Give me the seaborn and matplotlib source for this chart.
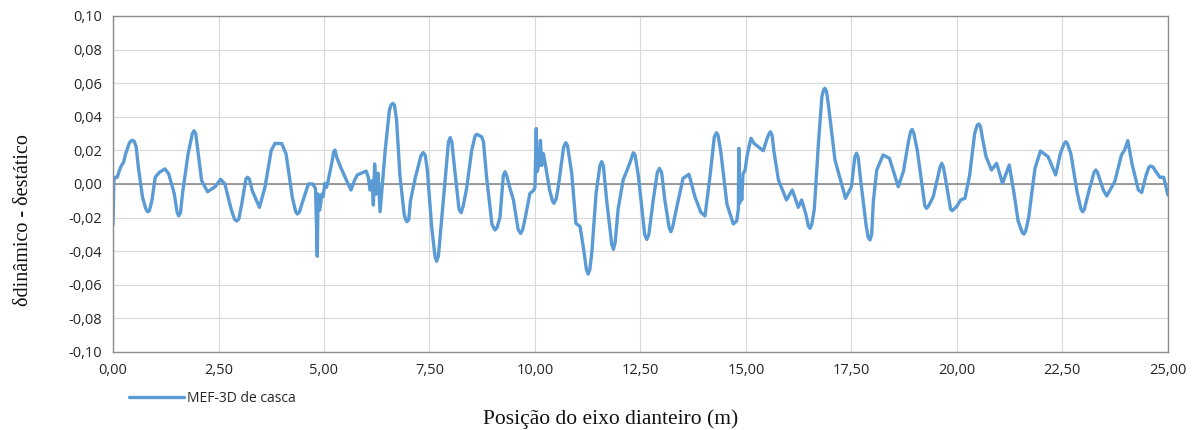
import matplotlib
matplotlib.use("Agg")
import matplotlib.pyplot as plt
import seaborn as sns
import pandas as pd

# posição do eixo dianteiro (m) e diferença de deslocamento
pos = [0.0, 0.02, 0.05, 0.1, 0.15, 0.2, 0.25, 0.3, 0.38, 0.42, 0.46, 0.5, 0.55, 0.6, 0.7, 0.78,
       0.82, 0.86, 0.92, 1.0, 1.1, 1.23, 1.32, 1.45, 1.52, 1.56, 1.6, 1.65, 1.78, 1.88, 1.92,
       1.96, 2.0, 2.1, 2.24, 2.42, 2.55, 2.65, 2.8, 2.88, 2.93, 2.98, 3.05, 3.15, 3.19, 3.23,
       3.3, 3.47, 3.6, 3.75, 3.84, 4.0, 4.1, 4.25, 4.33, 4.37, 4.42, 4.5, 4.63,
       4.74, 4.8, 4.84, 4.86, 4.9, 4.95, 4.98, 5.02, 5.06, 5.1, 5.18, 5.23, 5.26, 5.3, 5.39, 5.5,
       5.64, 5.72, 5.79, 6.0, 6.05, 6.09, 6.14, 6.17, 6.2, 6.24, 6.28, 6.33, 6.36, 6.45, 6.55,
       6.59, 6.63, 6.67, 6.72, 6.8, 6.9, 6.94, 6.97, 7.01, 7.05, 7.16, 7.3, 7.35, 7.4, 7.45,
       7.55, 7.63, 7.67, 7.71, 7.75, 7.88, 7.95, 7.99, 8.03, 8.1, 8.2, 8.25, 8.3, 8.38, 8.5,
       8.58, 8.62, 8.74, 8.78, 8.85, 8.98, 9.05, 9.1, 9.17, 9.25, 9.29, 9.33, 9.4, 9.49, 9.6,
       9.66, 9.71, 9.77, 9.88, 9.96,
       10.0, 10.03, 10.05, 10.1, 10.13, 10.16, 10.2, 10.24, 10.35, 10.42, 10.45, 10.5, 10.55,
       10.68, 10.73, 10.77, 10.8,
       10.87, 10.97, 11.07, 11.16, 11.22, 11.26, 11.3, 11.35, 11.45, 11.54, 11.58, 11.62, 11.7,
       11.82, 11.86, 11.9, 11.97, 12.09,
       12.23, 12.33, 12.37, 12.45, 12.6, 12.65, 12.7, 12.8, 12.9, 12.95, 13.0, 13.08, 13.18,
       13.22, 13.26, 13.35, 13.51, 13.65, 13.79,
       13.93, 14.03, 14.15, 14.25, 14.3, 14.34, 14.4, 14.55, 14.7, 14.78, 14.82, 14.83, 14.85,
       14.88, 14.9, 14.93, 14.98, 15.03, 15.12, 15.19, 15.29, 15.41, 15.5, 15.55, 15.58, 15.62,
       15.66, 15.77, 15.96,
       16.1, 16.24, 16.32, 16.42, 16.48, 16.52, 16.56, 16.62, 16.72, 16.8, 16.84, 16.87, 16.91,
       16.95, 17.11, 17.24,
       17.36, 17.5, 17.58, 17.62, 17.66, 17.72, 17.85, 17.9, 17.94, 17.98, 18.02, 18.1, 18.25,
       18.4, 18.61, 18.73,
       18.85, 18.9, 18.94, 18.98, 19.06, 19.17, 19.24, 19.28, 19.33, 19.44, 19.6, 19.64, 19.68,
       19.75, 19.85, 19.89, 19.99, 20.09, 20.19,
       20.3, 20.42, 20.48, 20.52, 20.56, 20.6, 20.69, 20.82, 20.94, 21.08, 21.24, 21.35, 21.45,
       21.55, 21.59, 21.63,
       21.7, 21.85, 21.98, 22.16, 22.34, 22.45, 22.54, 22.58, 22.62, 22.7, 22.85, 22.94, 22.98,
       23.02, 23.12, 23.25, 23.29, 23.33,
       23.47, 23.55, 23.74, 23.9, 23.97, 24.05, 24.15, 24.3, 24.38, 24.48, 24.55, 24.59, 24.65,
       24.7, 24.81, 24.9, 25.0]

delta = [-0.024, 0.002, 0.004, 0.004, 0.008, 0.011, 0.013, 0.018, 0.024, 0.0255, 0.026, 0.0255,
         0.022, 0.010, -0.008, -0.015, -0.0165, -0.016, -0.010, 0.004, 0.007, 0.009, 0.006,
         -0.0056, -0.017, -0.019, -0.017, -0.005, 0.018, 0.030, 0.0317, 0.030, 0.022, 0.002,
         -0.0046, -0.0016, 0.0028, 0.0, -0.015, -0.021, -0.022, -0.021, -0.012, 0.003, 0.004,
         0.003, -0.004, -0.0139, -0.002, 0.020, 0.0242, 0.024, 0.018, -0.008, -0.0165, -0.0179,
         -0.0165, -0.010, 0.0,
         0.0, -0.003, -0.043, -0.006, -0.0155, -0.006, -0.0075, 0.0004, -0.002, 0.002, 0.012,
         0.019, 0.0202, 0.016, 0.0103, 0.004, -0.0036, 0.002, 0.0054, 0.0077, 0.004, -0.0036,
         0.002, -0.0125, 0.0119, -0.006, 0.0064, -0.0165, -0.0075, 0.020, 0.044,
         0.047, 0.048, 0.047, 0.038, 0.005, -0.018, -0.0215, -0.0224, -0.021, -0.010, 0.0034,
         0.017, 0.0187, 0.017, 0.008,
         -0.025, -0.043, -0.046, -0.043, -0.032, 0.005, 0.025, 0.0276, 0.025, 0.008, -0.015,
         -0.0171, -0.013, -0.0026, 0.020,
         0.0285, 0.0296, 0.028, 0.025, 0.005, -0.024, -0.0274, -0.026, -0.020, 0.005, 0.0073,
         0.005, -0.002, -0.0095, -0.027,
         -0.0294, -0.027, -0.020, -0.0056, -0.004,
         -0.002, 0.033, 0.0073, 0.012, 0.026, 0.011, 0.018, 0.0125, -0.004, -0.0105, -0.0115,
         -0.009, -0.002,
         0.022, 0.0246, 0.023, 0.018,
         0.0065, -0.0234, -0.0254, -0.040, -0.051, -0.0536, -0.051, -0.040, -0.005, 0.011,
         0.0133, 0.011, -0.010,
         -0.036, -0.0389, -0.035, -0.015, 0.0024,
         0.0113, 0.0186, 0.0175, 0.005, -0.030, -0.033, -0.030, -0.010, 0.007, 0.0093, 0.007,
         -0.010, -0.026,
         -0.0284, -0.026, -0.015, 0.0034, 0.0058, -0.0075,
         -0.0168, -0.019, 0.005, 0.028, 0.0305, 0.029, 0.020, -0.012, -0.0238, -0.022, -0.015,
         0.0212, -0.0115,
         0.0024, -0.0095, 0.006, 0.0083, 0.0173, 0.0272, 0.0242, 0.0222, 0.0198, 0.027, 0.030,
         0.0311, 0.029,
         0.020, 0.0024, -0.0095,
         -0.0036, -0.0139, -0.0095, -0.018, -0.025, -0.0264, -0.024, -0.015, 0.025, 0.052,
         0.056, 0.057, 0.055,
         0.048, 0.0143, 0.0024,
         -0.0085, -0.0016, 0.016, 0.0183, 0.016, 0.002, -0.025, -0.032, -0.0333, -0.030, -0.010,
         0.0083, 0.0173,
         0.0153, -0.0016, 0.0073,
         0.025, 0.031, 0.0325, 0.030, 0.0202, 0.0, -0.013, -0.0145, -0.013, -0.0075, 0.010,
         0.0123, 0.010,
         0.0, -0.015, -0.0159, -0.0135, -0.0095, -0.0085,
         0.005, 0.030, 0.035, 0.0357, 0.034, 0.028, 0.0163, 0.0083, 0.0123, 0.0004, 0.0113,
         -0.005, -0.022,
         -0.029, -0.0298, -0.028,
         -0.020, 0.0093, 0.0196, 0.0163, 0.0054, 0.018, 0.024, 0.0252, 0.024, 0.018, -0.005,
         -0.015, -0.0165,
         -0.015, -0.005, 0.007, 0.0083, 0.007,
         -0.0036, -0.0071, 0.0014, 0.0173, 0.020, 0.0258, 0.012, -0.0036, -0.005, 0.005, 0.010,
         0.0107, 0.010,
         0.008, 0.004, 0.004, -0.0065]

x_ticks = [0, 2.5, 5, 7.5, 10, 12.5, 15, 17.5, 20, 22.5, 25]
y_ticks = [-0.10, -0.08, -0.06, -0.04, -0.02, 0.0, 0.02, 0.04, 0.06, 0.08, 0.10]

df = pd.DataFrame({"pos": pos, "delta": delta})

sns.set_style("whitegrid", {"grid.color": "#D9D9D9", "axes.edgecolor": "#8C8C8C"})
plt.rcParams["font.family"] = ["Open Sans", "DejaVu Sans"]

fig = plt.figure(figsize=(11.96, 4.30), dpi=100)
ax = fig.add_axes([0.0945, 0.1814, 0.882, 0.7814])

sns.lineplot(data=df, x="pos", y="delta", sort=False, estimator=None,
             color="#5B9BD5", linewidth=2.4, ax=ax, label="MEF-3D de casca")
ax.axhline(0, color="#8C8C8C", linewidth=1.2, zorder=1)

ax.set_xlim(0, 25)
ax.set_ylim(-0.10, 0.10)
ax.set_xticks(x_ticks)
ax.set_yticks(y_ticks)
ax.set_xticklabels([f"{v:.2f}".replace(".", ",") for v in x_ticks])
ax.set_yticklabels([f"{v:.2f}".replace(".", ",").replace("-0,00", "0,00") for v in y_ticks])
ax.tick_params(labelsize=10.5, colors="#262626", length=0, pad=8)
for sp in ax.spines.values():
    sp.set_color("#8C8C8C")
    sp.set_linewidth(1.0)

ax.set_xlabel("Posição do eixo dianteiro (m)", family="Liberation Serif", fontsize=15.5,
              color="#111111")
ax.xaxis.set_label_coords(0.472, -0.17)
ax.set_ylabel("δdinâmico - δestático", family="Liberation Serif", fontsize=14.5,
              color="#111111")
ax.yaxis.set_label_coords(-0.076, 0.393)

ax.get_legend().remove()
handles, labels = ax.get_legend_handles_labels()
fig.legend(handles, labels, loc="center left", bbox_to_anchor=(0.097, 0.074),
           frameon=False, fontsize=10, handlelength=4.0, handletextpad=0.2,
           labelcolor="#262626")

fig.savefig("out.png", dpi=100)
